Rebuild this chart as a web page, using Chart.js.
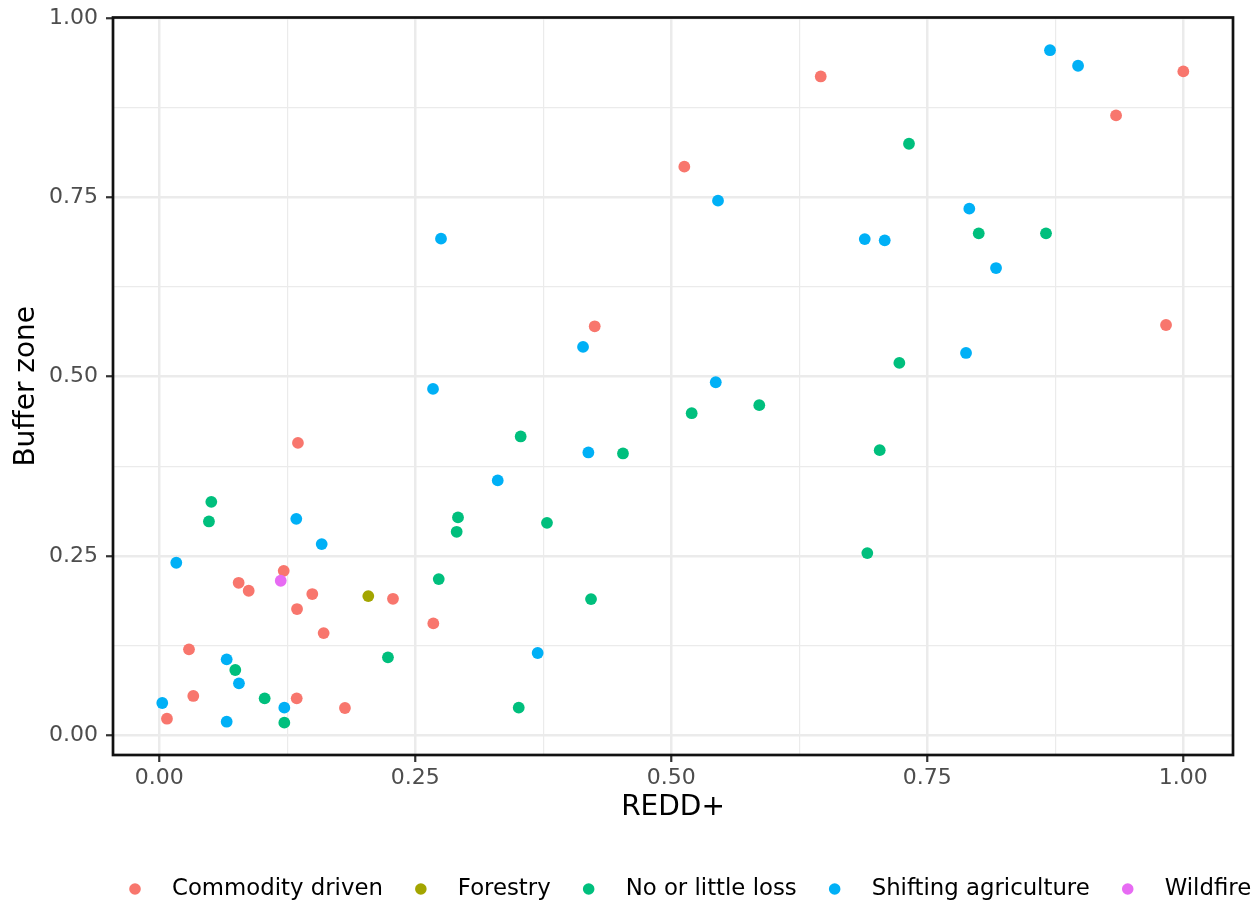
<!DOCTYPE html>
<html>
<head>
<meta charset="utf-8">
<script src="https://cdn.jsdelivr.net/npm/chart.js@4.4.1/dist/chart.umd.min.js"></script>
<style>
  html, body { margin: 0; padding: 0; background: #fff; }
</style>
</head>
<body>
<canvas id="chart" width="1260" height="904"></canvas>
<script>
const categories = ["Commodity driven", "Forestry", "No or little loss", "Shifting agriculture", "Wildfire"]
const colors = ["#F8766D", "#A3A500", "#00BF7D", "#00B0F6", "#E76BF3"]

// REDD+ (x) and buffer zone (y) per driver
const commodityX = [0.1215, 0.0775, 0.0873, 0.1494, 0.2282, 0.1345, 0.1605, 0.0290, 0.0332, 0.1342, 0.1813, 0.0075, 0.1354, 0.2676, 0.4252, 0.9831, 0.6459, 0.5127, 1.0000, 0.9343]
const commodityY = [0.2293, 0.2126, 0.2015, 0.1969, 0.1903, 0.1760, 0.1425, 0.1198, 0.0548, 0.0515, 0.0380, 0.0231, 0.4076, 0.1560, 0.5702, 0.5720, 0.9185, 0.7927, 0.9255, 0.8642]
const forestryX = [0.2041]
const forestryY = [0.1941]
const noLossX = [0.0508, 0.0485, 0.2233, 0.0742, 0.1029, 0.1221, 0.3529, 0.2917, 0.2904, 0.3786, 0.2729, 0.3510, 0.7227, 0.5199, 0.5859, 0.4528, 0.7035, 0.6914, 0.8002, 0.8659, 0.7321, 0.4216]
const noLossY = [0.3254, 0.2981, 0.1087, 0.0910, 0.0515, 0.0176, 0.4166, 0.3037, 0.2837, 0.2962, 0.2178, 0.0385, 0.5191, 0.4490, 0.4602, 0.3929, 0.3975, 0.2540, 0.6998, 0.6998, 0.8247, 0.1899]
const shiftingX = [0.1338, 0.1586, 0.0166, 0.0658, 0.0778, 0.0029, 0.1221, 0.0658, 0.2673, 0.3305, 0.3695, 0.4138, 0.5434, 0.4190, 0.7910, 0.6889, 0.7084, 0.8171, 0.7878, 0.5456, 0.2751, 0.8698, 0.8972]
const shiftingY = [0.3018, 0.2666, 0.2405, 0.1059, 0.0724, 0.0450, 0.0385, 0.0189, 0.4829, 0.3553, 0.1147, 0.5414, 0.4922, 0.3943, 0.7342, 0.6918, 0.6900, 0.6514, 0.5330, 0.7453, 0.6924, 0.9551, 0.9334]
const wildfireX = [0.1186]
const wildfireY = [0.2154]

const majorTicks = [0, 0.25, 0.5, 0.75, 1]
const minorTicks = [0.125, 0.375, 0.625, 0.875]
const tickLabels = ["0.00", "0.25", "0.50", "0.75", "1.00"]

const seriesX = [commodityX, forestryX, noLossX, shiftingX, wildfireX]
const seriesY = [commodityY, forestryY, noLossY, shiftingY, wildfireY]

const FONT = '"DejaVu Sans"'
Chart.defaults.font.family = FONT

const allTicks = [...majorTicks, ...minorTicks].sort((a, b) => a - b)
const isMajor = (v) => majorTicks.includes(v)

const gridOpts = {
    color: "#EBEBEB",
    lineWidth: (ctx) => (ctx.tick && isMajor(ctx.tick.value) ? 2.5 : 1.2),
    tickColor: (ctx) => (ctx.tick && isMajor(ctx.tick.value) ? "#333333" : "rgba(0,0,0,0)"),
    tickWidth: 2.2,
    tickLength: 7,
}

const tickOpts = {
    autoSkip: false,
    maxRotation: 0,
    color: "#4D4D4D",
    font: { size: 22 },
    callback: (v) => {
        const i = majorTicks.indexOf(v)
        return i >= 0 ? tickLabels[i] : ""
    },
}

// panel border drawn on top of the points, like ggplot
const panelBorder = {
    id: "panelBorder",
    afterDatasetsDraw(chart) {
        const { ctx, chartArea: a } = chart
        ctx.save()
        ctx.strokeStyle = "#111111"
        ctx.lineWidth = 2.7
        ctx.strokeRect(a.left, a.top, a.right - a.left, a.bottom - a.top)
        ctx.restore()
    },
}

// ggplot style legend row at the bottom
const bottomLegend = {
    id: "bottomLegend",
    afterDraw(chart) {
        const ctx = chart.ctx
        ctx.save()
        ctx.font = `22.8px ${FONT}`
        ctx.textBaseline = "middle"
        let x = 135
        const y = 889
        categories.forEach((name, i) => {
            ctx.fillStyle = colors[i]
            ctx.beginPath()
            ctx.arc(x, y, 5.8, 0, Math.PI * 2)
            ctx.fill()
            ctx.fillStyle = "#000"
            ctx.fillText(name, x + 37, y)
            x += 37 + ctx.measureText(name).width + 38
        })
        ctx.restore()
    },
}

new Chart(document.getElementById("chart"), {
    type: "scatter",
    data: {
        datasets: categories.map((name, i) => ({
            label: name,
            data: seriesX[i].map((x, j) => ({ x: x, y: seriesY[i][j] })),
            backgroundColor: colors[i],
            borderWidth: 0,
            pointRadius: 5.9,
            pointHoverRadius: 5.9,
            order: categories.length - i,
        })),
    },
    options: {
        responsive: false,
        animation: false,
        events: [],
        layout: { padding: { top: 17.5, right: 27, bottom: 79, left: 0 } },
        plugins: {
            legend: { display: false },
            tooltip: { enabled: false },
        },
        scales: {
            x: {
                type: "linear",
                min: -0.0452,
                max: 1.0485,
                afterBuildTicks: (s) => {
                    s.ticks = allTicks.map((v) => ({ value: v }))
                },
                afterFit: (s) => {
                    s.height = 70
                    s.paddingLeft = 0
                    s.paddingRight = 0
                },
                ticks: { ...tickOpts, padding: 3 },
                grid: gridOpts,
                border: { display: false },
                title: { display: true, text: "REDD+", color: "#000", font: { size: 28 }, padding: 0 },
            },
            y: {
                type: "linear",
                min: -0.0275,
                max: 1.0007,
                afterBuildTicks: (s) => {
                    s.ticks = allTicks.map((v) => ({ value: v }))
                },
                afterFit: (s) => {
                    s.width = 113
                    s.paddingTop = 0
                    s.paddingBottom = 0
                },
                ticks: { ...tickOpts, padding: 8 },
                grid: gridOpts,
                border: { display: false },
                title: { display: true, text: "Buffer zone", color: "#000", font: { size: 28 }, padding: { top: 10, bottom: 0 } },
            },
        },
    },
    plugins: [panelBorder, bottomLegend],
})
</script>
</body>
</html>
